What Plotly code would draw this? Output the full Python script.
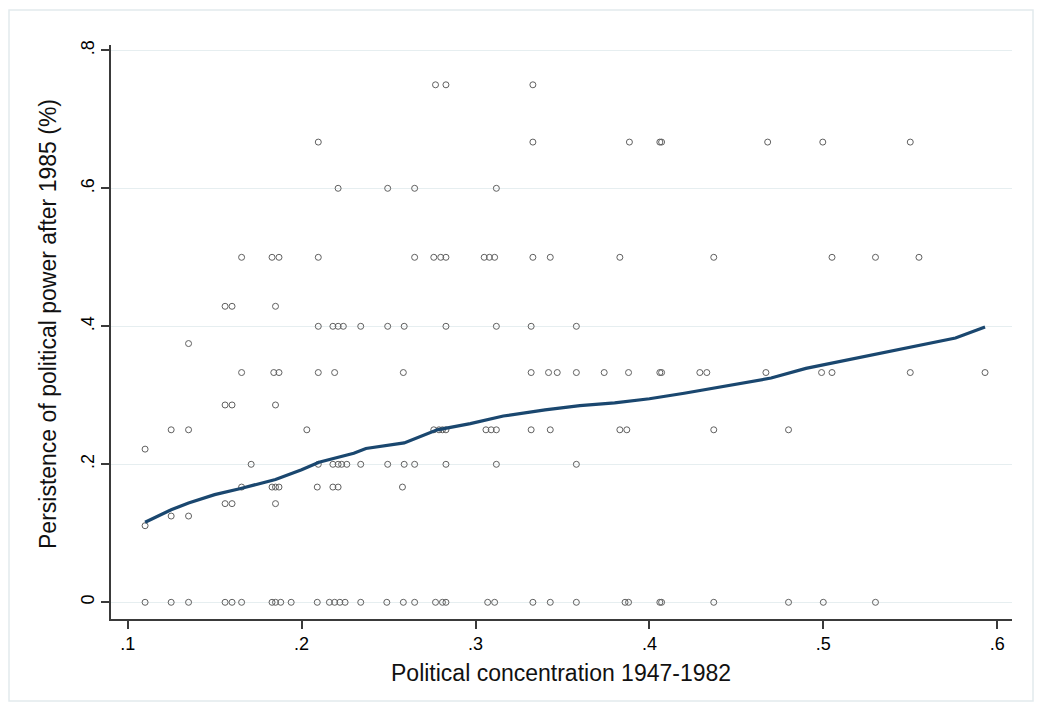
import plotly.graph_objects as go

# --- data ---
x_p0 = [0.110, 0.125, 0.135, 0.156, 0.160, 0.1655, 0.183, 0.185, 0.188, 0.194, 0.209, 0.216, 0.219,
        0.222, 0.225, 0.234, 0.249, 0.2585, 0.265, 0.277, 0.281, 0.283, 0.307, 0.311, 0.333, 0.343,
        0.358, 0.386, 0.388, 0.406, 0.407, 0.437, 0.480, 0.500, 0.530]
x_p111 = [0.110]
x_p125 = [0.125, 0.135]
x_p143 = [0.156, 0.160, 0.185]
x_p167 = [0.1655, 0.183, 0.185, 0.187, 0.209, 0.218, 0.221, 0.258]
x_p200 = [0.171, 0.2096, 0.218, 0.221, 0.223, 0.226, 0.234, 0.2495, 0.259, 0.265, 0.283, 0.312, 0.358]
x_p222 = [0.110]
x_p250 = [0.125, 0.135, 0.203, 0.276, 0.279, 0.281, 0.283, 0.306, 0.309, 0.312, 0.332, 0.343,
          0.383, 0.387, 0.437, 0.480]
x_p286 = [0.156, 0.160, 0.185]
x_p333 = [0.1655, 0.184, 0.187, 0.2096, 0.219, 0.2585, 0.332, 0.342, 0.347, 0.358, 0.374, 0.388,
          0.406, 0.407, 0.429, 0.433, 0.467, 0.499, 0.505, 0.550, 0.593]
x_p375 = [0.135]
x_p400 = [0.2096, 0.218, 0.221, 0.224, 0.234, 0.2495, 0.259, 0.283, 0.312, 0.332, 0.358]
x_p429 = [0.156, 0.160, 0.185]
x_p500 = [0.1655, 0.183, 0.187, 0.2096, 0.265, 0.276, 0.280, 0.283, 0.305, 0.308, 0.311, 0.333,
          0.343, 0.383, 0.437, 0.505, 0.530, 0.555]
x_p600 = [0.221, 0.2495, 0.265, 0.312]
x_p667 = [0.2096, 0.333, 0.3885, 0.406, 0.407, 0.468, 0.4997, 0.550]
x_p750 = [0.277, 0.283, 0.333]

rows = [
    (0.0, x_p0), (0.111, x_p111), (0.125, x_p125), (0.143, x_p143), (0.167, x_p167),
    (0.2, x_p200), (0.222, x_p222), (0.25, x_p250), (0.286, x_p286), (0.333, x_p333),
    (0.375, x_p375), (0.4, x_p400), (0.429, x_p429), (0.5, x_p500), (0.6, x_p600),
    (0.667, x_p667), (0.75, x_p750),
]

# lowess smoother
smooth_x = [0.110, 0.125, 0.135, 0.150, 0.165, 0.185, 0.200, 0.210, 0.230, 0.237, 0.259, 0.278,
            0.297, 0.316, 0.340, 0.360, 0.380, 0.400, 0.420, 0.440, 0.459, 0.470, 0.490, 0.519,
            0.548, 0.576, 0.593]
smooth_y = [0.116, 0.134, 0.144, 0.156, 0.165, 0.178, 0.192, 0.203, 0.216, 0.223, 0.231, 0.250,
            0.259, 0.270, 0.279, 0.285, 0.289, 0.295, 0.303, 0.312, 0.320, 0.325, 0.339, 0.354,
            0.368, 0.383, 0.399]

x_ticks = [0.1, 0.2, 0.3, 0.4, 0.5, 0.6]
x_tick_labels = [".1", ".2", ".3", ".4", ".5", ".6"]
y_ticks = [0, 0.2, 0.4, 0.6, 0.8]
y_tick_labels = ["0", ".2", ".4", ".6", ".8"]
x_title = "Political concentration 1947-1982"
y_title = "Persistence of political power after 1985 (%)"

px_x = [x for _, xs in rows for x in xs]
px_y = [y for y, xs in rows for _ in xs]

FONT = "Liberation Sans, Arial, sans-serif"

fig = go.Figure()
fig.add_trace(go.Scatter(
    x=px_x, y=px_y, mode="markers",
    marker=dict(symbol="circle-open", size=6, color="#606060", line=dict(width=1)),
    showlegend=False, hoverinfo="skip",
))
fig.add_trace(go.Scatter(
    x=smooth_x, y=smooth_y, mode="lines",
    line=dict(color="#1a476f", width=3.2),
    showlegend=False, hoverinfo="skip",
))

W, H = 1039, 710
L, R, T, B = 111, 27, 45, 91
pw, ph = W - L - R, H - T - B

fig.update_layout(
    width=W, height=H,
    margin=dict(l=L, r=R, t=T, b=B, pad=0),
    paper_bgcolor="white", plot_bgcolor="white",
    font=dict(family=FONT, color="#000000"),
    xaxis=dict(
        range=[0.0904, 0.6085], tickvals=x_ticks, ticktext=x_tick_labels,
        showgrid=False, zeroline=False,
        showline=True, linecolor="#3a3a3a", linewidth=1.5,
        ticks="outside", ticklen=8, tickwidth=1.5, tickcolor="#3a3a3a",
        tickfont=dict(size=18, family=FONT),
    ),
    yaxis=dict(
        range=[-0.0242, 0.8077], tickvals=y_ticks, ticktext=y_tick_labels,
        showgrid=True, gridcolor="#e6eef0", gridwidth=1,
        zeroline=False,
        showline=True, linecolor="#3a3a3a", linewidth=1.5,
        ticks="outside", ticklen=8, tickwidth=1.5, tickcolor="#3a3a3a",
        tickangle=-90,
        tickfont=dict(size=18, family=FONT),
    ),
    annotations=[
        dict(text=x_title, xref="paper", yref="paper",
             x=(561 - L) / pw, y=(H - B - 673) / ph, xanchor="center", yanchor="middle",
             showarrow=False, font=dict(size=23, family=FONT, color="#111111")),
        dict(text=y_title, xref="paper", yref="paper", textangle=-90,
             x=(48 - L) / pw, y=(H - B - 324) / ph, xanchor="center", yanchor="middle",
             showarrow=False, font=dict(size=23, family=FONT, color="#111111")),
    ],
    shapes=[dict(
        type="rect", xref="paper", yref="paper",
        x0=(9 - L) / pw, x1=(1033 - L) / pw,
        y0=(H - B - 701) / ph, y1=(H - B - 10) / ph,
        line=dict(color="#e2eaed", width=1.5), fillcolor="rgba(0,0,0,0)", layer="below",
    )],
)

fig.write_html("out.html")
